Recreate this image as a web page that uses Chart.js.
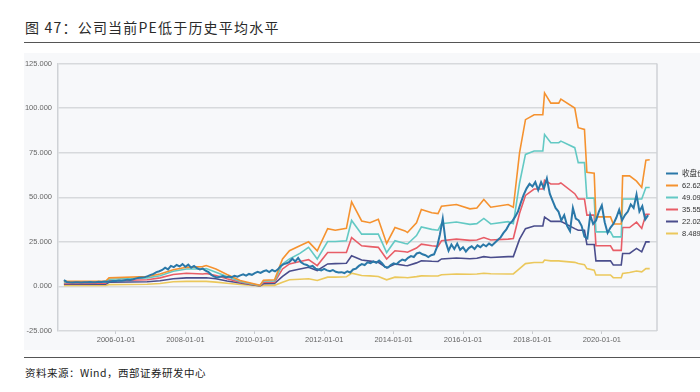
<!DOCTYPE html>
<html>
<head>
<meta charset="utf-8">
<script src="https://cdn.jsdelivr.net/npm/chart.js@4/dist/chart.umd.min.js"></script>
<style>
  body { margin: 0; width: 700px; height: 392px; overflow: hidden; background: #fff; position: relative;
         font-family: "Noto Sans CJK SC", sans-serif; }
  #title { position: absolute; left: 25px; top: 17px; font-size: 14px; letter-spacing: 1.2px; color: #2a2a2a; }
  .rule { position: absolute; left: 24px; width: 676px; border-top: 1.5px solid #555; }
  #panel { position: absolute; left: 24px; top: 53px; width: 676px; height: 297px; background: #f7f8fa; overflow: hidden; }
  #src { position: absolute; left: 25px; top: 365px; font-size: 10.5px; color: #222; letter-spacing: 0.5px; }
</style>
</head>
<body>
<div id="title">图 47：公司当前PE低于历史平均水平</div>
<div class="rule" style="top:42px"></div>
<div id="panel"><canvas id="pe" width="720" height="297"></canvas></div>
<div class="rule" style="top:357px"></div>
<div id="src">资料来源：Wind，西部证券研发中心</div>

<script>
// tick labels
const yTicks = [-25, 0, 25, 50, 75, 100, 125];
const xTicks = [2006, 2008, 2010, 2012, 2014, 2016, 2018, 2020];

// 收盘价, monthly from mid-2004
const closeStart = 2004.5;
const closeValues = [
  3.5, 2.5, 2.3, 2.2, 2.4, 2.3,
  2.2, 2.4, 2.3, 2.5, 2.3, 2.4, 2.6, 2.5, 2.7, 2.6, 2.8, 3.0,
  3.1, 3.3, 3.2, 3.5, 3.8, 3.6, 4.0, 4.5, 4.8, 5.0, 5.2, 5.8,
  6.5, 7.0, 8.0, 8.5, 9.2, 10.5, 9.5, 11.5, 10.8, 12.0, 11.2, 12.5,
  11.0, 12.2, 10.5, 11.5, 10.2, 9.5, 10.0, 8.8, 8.0, 6.5, 5.5, 5.0,
  5.4, 5.8, 5.0, 5.5, 5.2, 6.0, 5.5, 6.2, 6.8, 6.0, 7.0, 6.5,
  7.5, 8.2, 7.6, 8.5, 9.0, 8.0, 9.2, 8.4, 9.6, 11.5, 12.5, 13.0,
  13.8, 15.5, 14.0, 16.0, 13.5, 12.5, 12.0, 11.0, 11.5, 10.0, 9.5, 9.0,
  9.8, 9.0, 8.5, 9.2, 8.2, 7.8, 8.0, 7.5, 8.5, 7.8, 9.5, 10.0,
  11.5, 12.5, 12.0, 13.5, 13.0, 14.0, 13.2, 14.5, 13.0, 11.0, 10.5, 12.0,
  13.0, 12.5, 14.0, 15.0, 14.5, 16.0, 17.0, 16.5, 18.5, 19.0, 18.0, 17.5,
  16.5, 17.5, 18.0, 22.0, 29.0, 38.0, 25.0, 20.0, 23.5, 21.0, 24.0, 20.5,
  22.0, 19.5, 21.5, 22.5, 21.0, 23.0, 22.0, 23.5, 22.5, 24.0, 23.0, 24.5,
  26.0, 27.5, 30.0, 32.0, 35.0, 36.5, 39.0, 42.0, 47.0, 51.5, 55.0, 57.5,
  56.0, 58.5, 54.0, 58.5, 55.0, 60.5, 52.0, 48.0, 44.0, 42.0, 37.0, 40.0,
  34.0, 31.0, 44.0, 38.0, 37.0, 34.0, 28.0, 27.0, 40.0, 35.0, 37.0, 42.0,
  45.5, 36.0, 30.0, 33.0, 35.0, 38.5, 43.0, 37.0, 40.0, 42.0, 46.0, 44.0,
  51.5, 42.0, 45.0, 37.5, 40.0
];

// PE band lines (dates where the band changes)
const bandDates = [
  2004.5, 2005.7, 2005.8, 2006.9, 2007.27, 2007.65, 2008.03, 2008.5, 2008.6, 2008.88, 2009.2, 2009.58, 2010.15,
  2010.25, 2010.57, 2010.8, 2011.0, 2011.3, 2011.55, 2011.8,
  2012.1, 2012.32, 2012.64, 2012.79, 2013.08, 2013.32, 2013.56, 2013.8,
  2014.04, 2014.33, 2014.4, 2014.66, 2014.8,
  2015.1, 2015.28, 2015.38, 2015.81, 2016.2, 2016.4, 2016.6, 2016.8,
  2017.3, 2017.45,
  2017.63, 2017.8, 2018.05, 2018.3, 2018.35, 2018.53, 2018.76, 2018.82,
  2019.22, 2019.32, 2019.5,
  2019.57, 2019.78, 2019.83, 2020.25, 2020.33, 2020.56,
  2020.6, 2020.8, 2021.0, 2021.15, 2021.27, 2021.38
];
const band1 = [ // 62.62
  2.8, 2.9, 4.8, 5.6, 7.0, 9.3, 10.7, 11.1, 11.7, 9.8, 6.7, 3.3, 0.6,
  3.5, 3.7, 15.4, 20.0, 22.8, 25.0, 20.0,
  32.4, 31.5, 32.6, 47.4, 36.7, 35.7, 37.6, 24.1,
  33.0, 31.1, 30.2, 35.7, 43.1,
  41.3, 40.8, 45.0, 45.9, 43.5, 44.0, 48.7, 44.4,
  45.9, 44.4,
  75.0, 93.5, 96.3, 96.3, 108.5, 102.8, 102.8, 105.0,
  100.0, 89.0, 88.0,
  64.0, 63.5, 39.0, 39.0, 35.0, 35.0,
  62.0, 62.0, 59.0, 55.5, 70.8, 71.0
];
const band2 = [ // 49.09
  2.2, 2.3, 4.0, 4.8, 6.0, 8.5, 9.8, 9.8, 10.0, 8.0, 5.5, 2.8, 0.5,
  3.0, 3.1, 12.6, 15.4, 18.5, 21.9, 15.4,
  25.2, 25.2, 25.6, 37.0, 29.3, 29.3, 29.3, 19.0,
  25.6, 24.1, 23.8, 28.5, 33.3,
  32.0, 31.5, 35.2, 36.1, 34.8, 35.2, 38.1, 35.0,
  36.3, 35.2,
  58.0, 74.0, 75.9, 75.9, 85.2, 80.6, 80.6, 81.5,
  77.8, 69.4, 69.4,
  49.5, 49.5, 30.6, 30.6, 27.8, 27.8,
  49.0, 49.0, 49.0, 49.0, 55.5, 55.5
];
const band3 = [ // 35.55
  1.7, 1.8, 3.2, 3.7, 4.8, 6.7, 7.4, 7.0, 7.2, 6.1, 4.3, 2.4, 0.4,
  2.3, 2.4, 9.8, 12.6, 14.0, 15.0, 11.7,
  19.0, 19.0, 19.0, 27.4, 22.8, 22.3, 21.9, 15.4,
  20.0, 19.4, 19.2, 21.5, 23.7,
  22.8, 22.5, 25.6, 26.5, 25.8, 26.0, 27.4, 26.0,
  26.5, 26.9,
  41.0, 51.0, 54.6, 54.6, 59.5, 57.4, 57.4, 58.0,
  52.0, 49.0, 49.0,
  40.0, 40.0, 22.8, 22.8, 20.2, 20.2,
  33.0, 33.0, 36.0, 32.5, 40.5, 40.5
];
const band4 = [ // 22.02
  1.2, 1.3, 2.3, 2.6, 3.2, 4.3, 4.8, 4.8, 4.9, 4.3, 3.0, 1.9, 0.3,
  1.5, 1.6, 5.6, 8.5, 9.8, 10.7, 8.9,
  12.6, 12.8, 13.0, 17.2, 14.8, 14.2, 13.5, 10.4,
  12.6, 11.7, 11.6, 13.2, 14.4,
  14.1, 14.0, 15.4, 15.9, 15.5, 15.8, 16.7, 16.2,
  16.7, 16.7,
  26.5, 32.4, 33.9, 33.9, 38.9, 36.5, 36.5, 36.5,
  32.4, 31.5, 31.5,
  23.5, 23.5, 14.3, 14.3, 12.0, 12.0,
  18.5, 18.5, 21.3, 19.4, 25.0, 25.0
];
const band5 = [ // 8.489
  0.6, 0.6, 1.0, 1.2, 1.6, 2.6, 2.8, 2.8, 2.8, 2.4, 1.8, 1.1, 0.2,
  0.6, 0.6, 2.4, 3.7, 4.0, 4.3, 3.3,
  5.2, 5.2, 5.4, 7.4, 6.1, 5.9, 5.6, 3.7,
  5.2, 5.0, 4.9, 5.5, 5.9,
  5.8, 5.8, 6.5, 7.0, 6.8, 7.0, 7.4, 7.1,
  7.0, 7.0,
  10.0, 12.8, 13.4, 13.4, 14.8, 14.3, 14.3, 14.2,
  13.5, 12.8, 12.2,
  10.0, 9.1, 6.4, 6.4, 4.9, 4.9,
  7.3, 7.8, 8.6, 8.2, 10.0, 10.0
];
const seriesLabels = ["收盘价", "62.62", "49.09", "35.55", "22.02", "8.489"];
const seriesColors = ["#2a78a8", "#f5922f", "#63c9c4", "#e85d67", "#4a4d8c", "#ebc85c"];

const closePts = closeValues.map((v, i) => ({ x: closeStart + i / 12, y: v }));
const bandPts = arr => arr.map((v, i) => ({ x: bandDates[i], y: v }));
const allSeries = [closePts, bandPts(band1), bandPts(band2), bandPts(band3), bandPts(band4), bandPts(band5)];

// plot frame on the right + legend beside it
const framePlugin = {
  id: "frame",
  afterDraw(chart) {
    const { ctx, chartArea } = chart;
    ctx.save();
    ctx.strokeStyle = "#cfd2d6";
    ctx.lineWidth = 1.5;
    ctx.beginPath();
    ctx.moveTo(chartArea.right, chartArea.top);
    ctx.lineTo(chartArea.right, chartArea.bottom);
    ctx.stroke();
    ctx.font = '7.5px "Liberation Sans", "Noto Sans CJK SC"';
    ctx.textBaseline = "middle";
    chart.data.datasets.forEach((ds, i) => {
      const y = 120.5 + i * 12;
      ctx.strokeStyle = ds.borderColor;
      ctx.lineWidth = 2;
      ctx.beginPath();
      ctx.moveTo(chartArea.right + 9, y);
      ctx.lineTo(chartArea.right + 21, y);
      ctx.stroke();
      ctx.fillStyle = "#333";
      ctx.fillText(ds.label, chartArea.right + 25, y);
    });
    ctx.restore();
  }
};

new Chart(document.getElementById("pe"), {
  type: "line",
  data: {
    datasets: allSeries.map((pts, i) => ({
      label: seriesLabels[i],
      data: pts,
      borderColor: seriesColors[i],
      borderWidth: i === 0 ? 2 : 1.6,
      pointRadius: 0,
      tension: 0,
      fill: false
    }))
  },
  options: {
    responsive: false,
    devicePixelRatio: 1,
    animation: false,
    layout: { padding: { left: 0, right: 87, top: 8, bottom: 0 } },
    plugins: { legend: { display: false }, tooltip: { enabled: false } },
    scales: {
      x: {
        type: "linear",
        min: 2004.33,
        max: 2021.59,
        afterBuildTicks: s => { s.ticks = xTicks.map(v => ({ value: v })); },
        afterFit: s => { s.height = 19; },
        grid: { drawOnChartArea: false, tickLength: 3, color: "#c8cbd0" },
        border: { display: false },
        ticks: {
          padding: 1, maxRotation: 0, autoSkip: false, color: "#666",
          font: { family: "Liberation Sans", size: 7.5 },
          callback: v => v + "-01-01"
        }
      },
      y: {
        min: -25,
        max: 125,
        afterBuildTicks: s => { s.ticks = yTicks.map(v => ({ value: v })); },
        afterFit: s => { s.width = 34; },
        grid: { color: "#d7d9dc", lineWidth: 1.5, drawTicks: false },
        border: { display: true, color: "#cfd2d6", width: 1.5 },
        ticks: {
          padding: 6, color: "#666",
          font: { family: "Liberation Sans", size: 7.5 },
          callback: v => v.toFixed(3)
        }
      }
    }
  },
  plugins: [framePlugin]
});
</script>
</body>
</html>
